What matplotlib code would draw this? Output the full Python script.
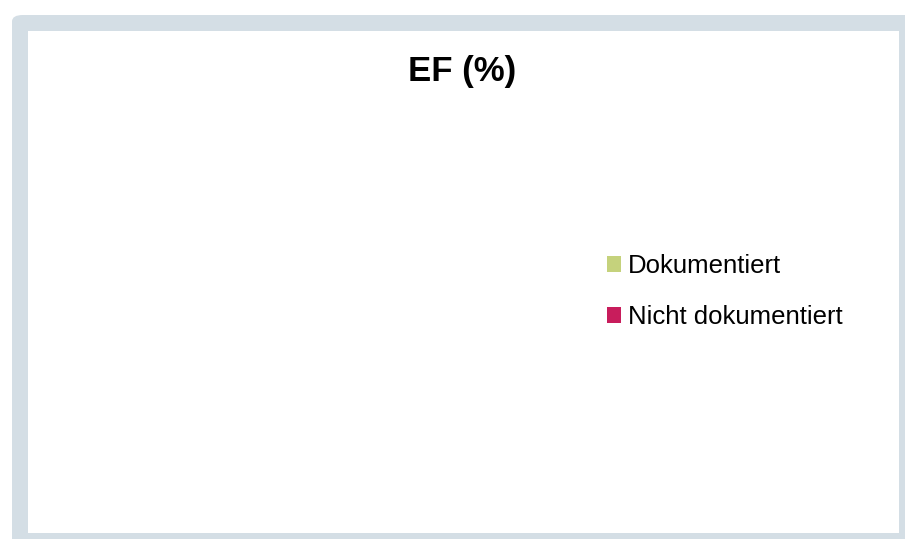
import matplotlib
matplotlib.use('Agg')
import matplotlib.pyplot as plt
from matplotlib.patches import FancyBboxPatch, Rectangle, Patch

plt.rcParams['font.family'] = ['Liberation Sans', 'DejaVu Sans']

# chart data (no values documented -> empty pie)
title = 'EF (%)'
categories = ['Dokumentiert', 'Nicht dokumentiert']
values = [0, 0]
colors = ['#c5d27c', '#c81d5c']

W, H = 905, 539
fig = plt.figure(figsize=(W / 100, H / 100), dpi=100)

# gray rounded frame + white panel (pixel coords, y from top)
def px(x, y):
    return x / W, 1 - y / H

frame = FancyBboxPatch(px(12, 560), (940 - 12) / W, (560 - 15) / H,
                       boxstyle='round,pad=0,rounding_size=0.012',
                       transform=fig.transFigure, facecolor='#d4dee5',
                       edgecolor='none', zorder=0)
fig.patches.append(frame)
panel = Rectangle(px(28, 533), (899 - 28) / W, (533 - 31) / H,
                  transform=fig.transFigure, facecolor='white',
                  edgecolor='none', zorder=1)
fig.patches.append(panel)

fig.text(462 / W, 1 - 71 / H, title, ha='center', va='center',
         fontsize=25, fontweight='bold', color='black', zorder=3)

ax = fig.add_axes([0.06, 0.1, 0.55, 0.7])
ax.set_zorder(2)
ax.axis('off')
if sum(values) > 0:
    ax.pie(values, colors=colors, startangle=90, counterclock=False)

handles = [Patch(facecolor=c, edgecolor='none') for c in colors]
leg = fig.legend(handles, categories, loc='upper left',
                 bbox_to_anchor=(607 / W, 1 - 254 / H), frameon=False,
                 fontsize=18.5, handlelength=0.55, handleheight=0.55,
                 handletextpad=0.25, labelspacing=1.05, borderpad=0,
                 borderaxespad=0)
leg.set_zorder(3)

fig.savefig('out.png', dpi=100)
